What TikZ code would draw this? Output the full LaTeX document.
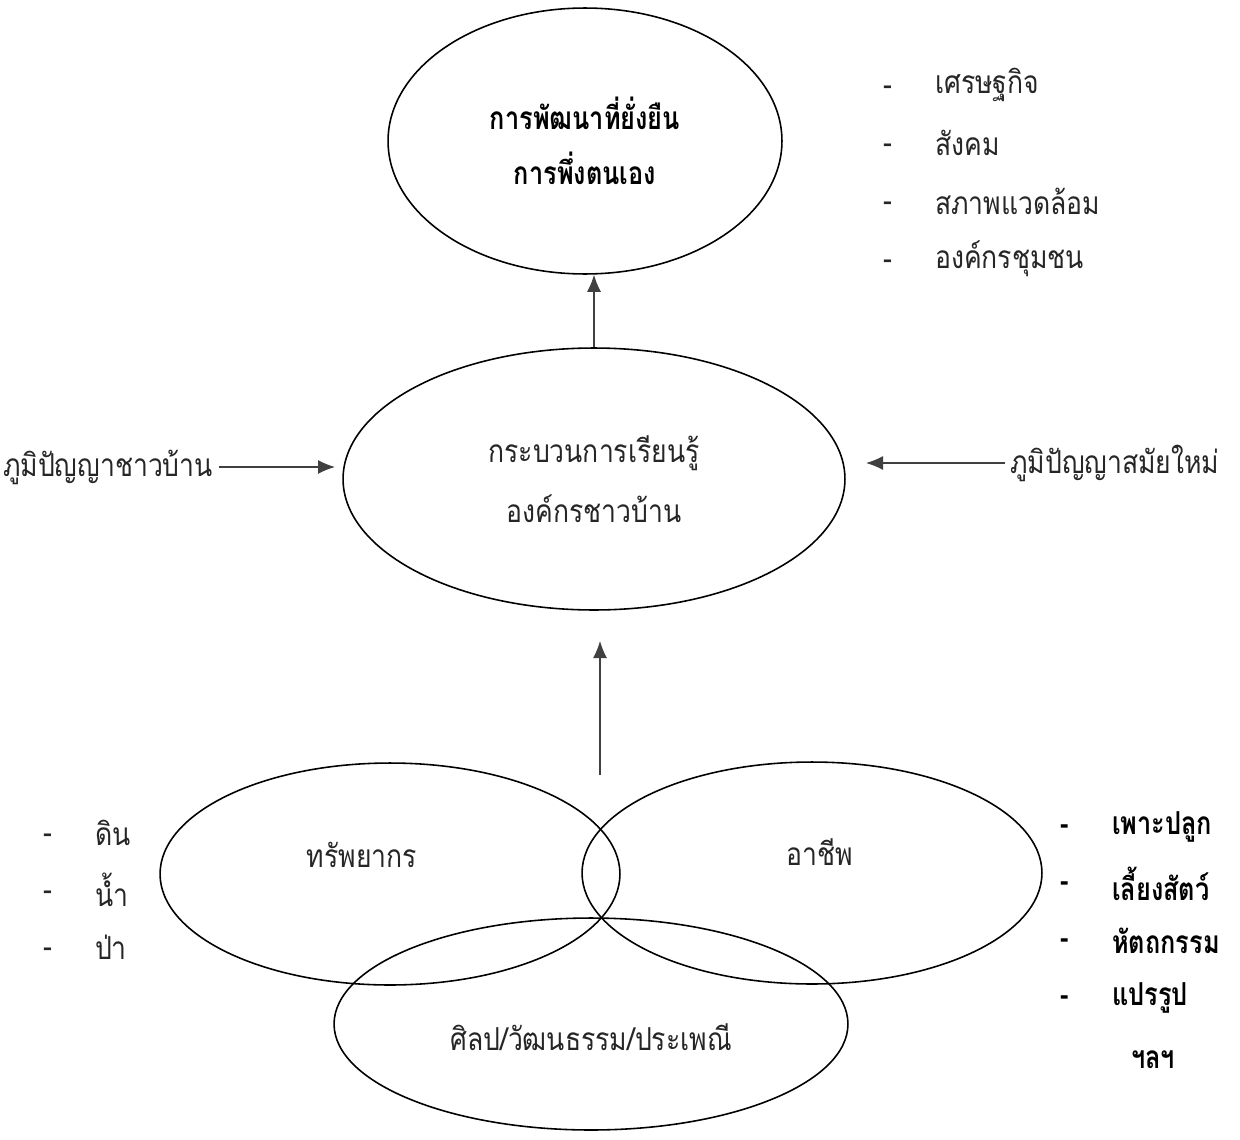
\documentclass[tikz,border=0pt]{standalone}
\usepackage{fontspec}
\newfontfamily\thaifont[Script=Thai,FakeStretch=0.84,BoldFeatures={FakeStretch=0.8}]{Loma}
\usetikzlibrary{shapes.geometric,arrows.meta}

\begin{document}
\begin{tikzpicture}[x=0.02cm,y=-0.02cm,font=\thaifont\fontsize{18}{34}\selectfont]
        % Setup the styles for the rings and the texts
        \tikzset{ring/.style={ellipse, draw, line width=0.9pt, inner sep=0pt},
                 word/.style={inner sep=1pt, text=black!85},
                 heavy/.style={word, text=black,
                               font=\thaifont\bfseries\fontsize{18}{31}\selectfont},
                 flow/.style={draw=black!75, line width=0.7pt,
                              -{Latex[length=3.4mm,width=2.8mm]}}}
        \useasboundingbox (0,0) rectangle (1240,1139);

        % Draw the rings
        \node[ring, heavy, align=center, minimum width=7.88cm, minimum height=5.32cm]
            at (585,141) (goal) {การพัฒนาที่ยั่งยืน\\การพึ่งตนเอง};
        \node[ring, word, align=center, minimum width=10.04cm, minimum height=5.24cm]
            at (594,479) (learn) {กระบวนการเรียนรู้\\องค์กรชาวบ้าน};
        \node[ring, minimum width=9.2cm, minimum height=4.44cm] at (390,874) (res) {};
        \node[ring, minimum width=9.2cm, minimum height=4.44cm] at (812,873) (job) {};
        \node[ring, minimum width=10.28cm, minimum height=4.24cm] at (591,1024) (art) {};
        \node[word] at (362,855) (restext) {ทรัพยากร};
        \node[word] at (820,852) (jobtext) {อาชีพ};
        \node[word] at (591,1037) (arttext) {ศิลป/วัฒนธรรม/ประเพณี};

        % Side labels
        \node[word, anchor=east] at (215,467) (oldwis) {ภูมิปัญญาชาวบ้าน};
        \node[word, anchor=west] at (1008,463) (newwis) {ภูมิปัญญาสมัยใหม่};

        % Lists
        \foreach \txt [count=\k] in {เศรษฐกิจ, สังคม, สภาพแวดล้อม, องค์กรชุมชน} {
            \node[word] at (888,33+58*\k) (effdash\k) {-};
            \node[word, anchor=west] at (933,27+58*\k) (eff\k) {\txt};
        }
        \foreach \txt [count=\k] in {ดิน, น้ำ, ป่า} {
            \node[word] at (48,782+57*\k) (resdash\k) {-};
            \node[word, anchor=west] at (93,776+57*\k) (resitem\k) {\txt};
        }
        \foreach \txt [count=\k] in {เพาะปลูก, เลี้ยงสัตว์, หัตถกรรม, แปรรูป} {
            \node[heavy] at (1065,773+57*\k) (jobdash\k) {-};
            \node[heavy, anchor=west] at (1110,770+57*\k) (jobitem\k) {\txt};
        }
        \node[heavy] at (1153,1060) (jobetc) {ฯลฯ};

        % Connect with arrows
        \coordinate (oldtip) at (335,467);
        \coordinate (newtip) at (866,463);
        \coordinate (upfoot) at (600,775);
        \coordinate (uptip) at (600,641);
        \draw[flow, shorten <=2pt] (oldwis) -- (oldtip);
        \draw[flow, shorten <=2pt] (newwis) -- (newtip);
        \draw[flow] (learn.north) -- (learn.north |- goal.south);
        \draw[flow] (upfoot) -- (uptip);
\end{tikzpicture}
\end{document}
